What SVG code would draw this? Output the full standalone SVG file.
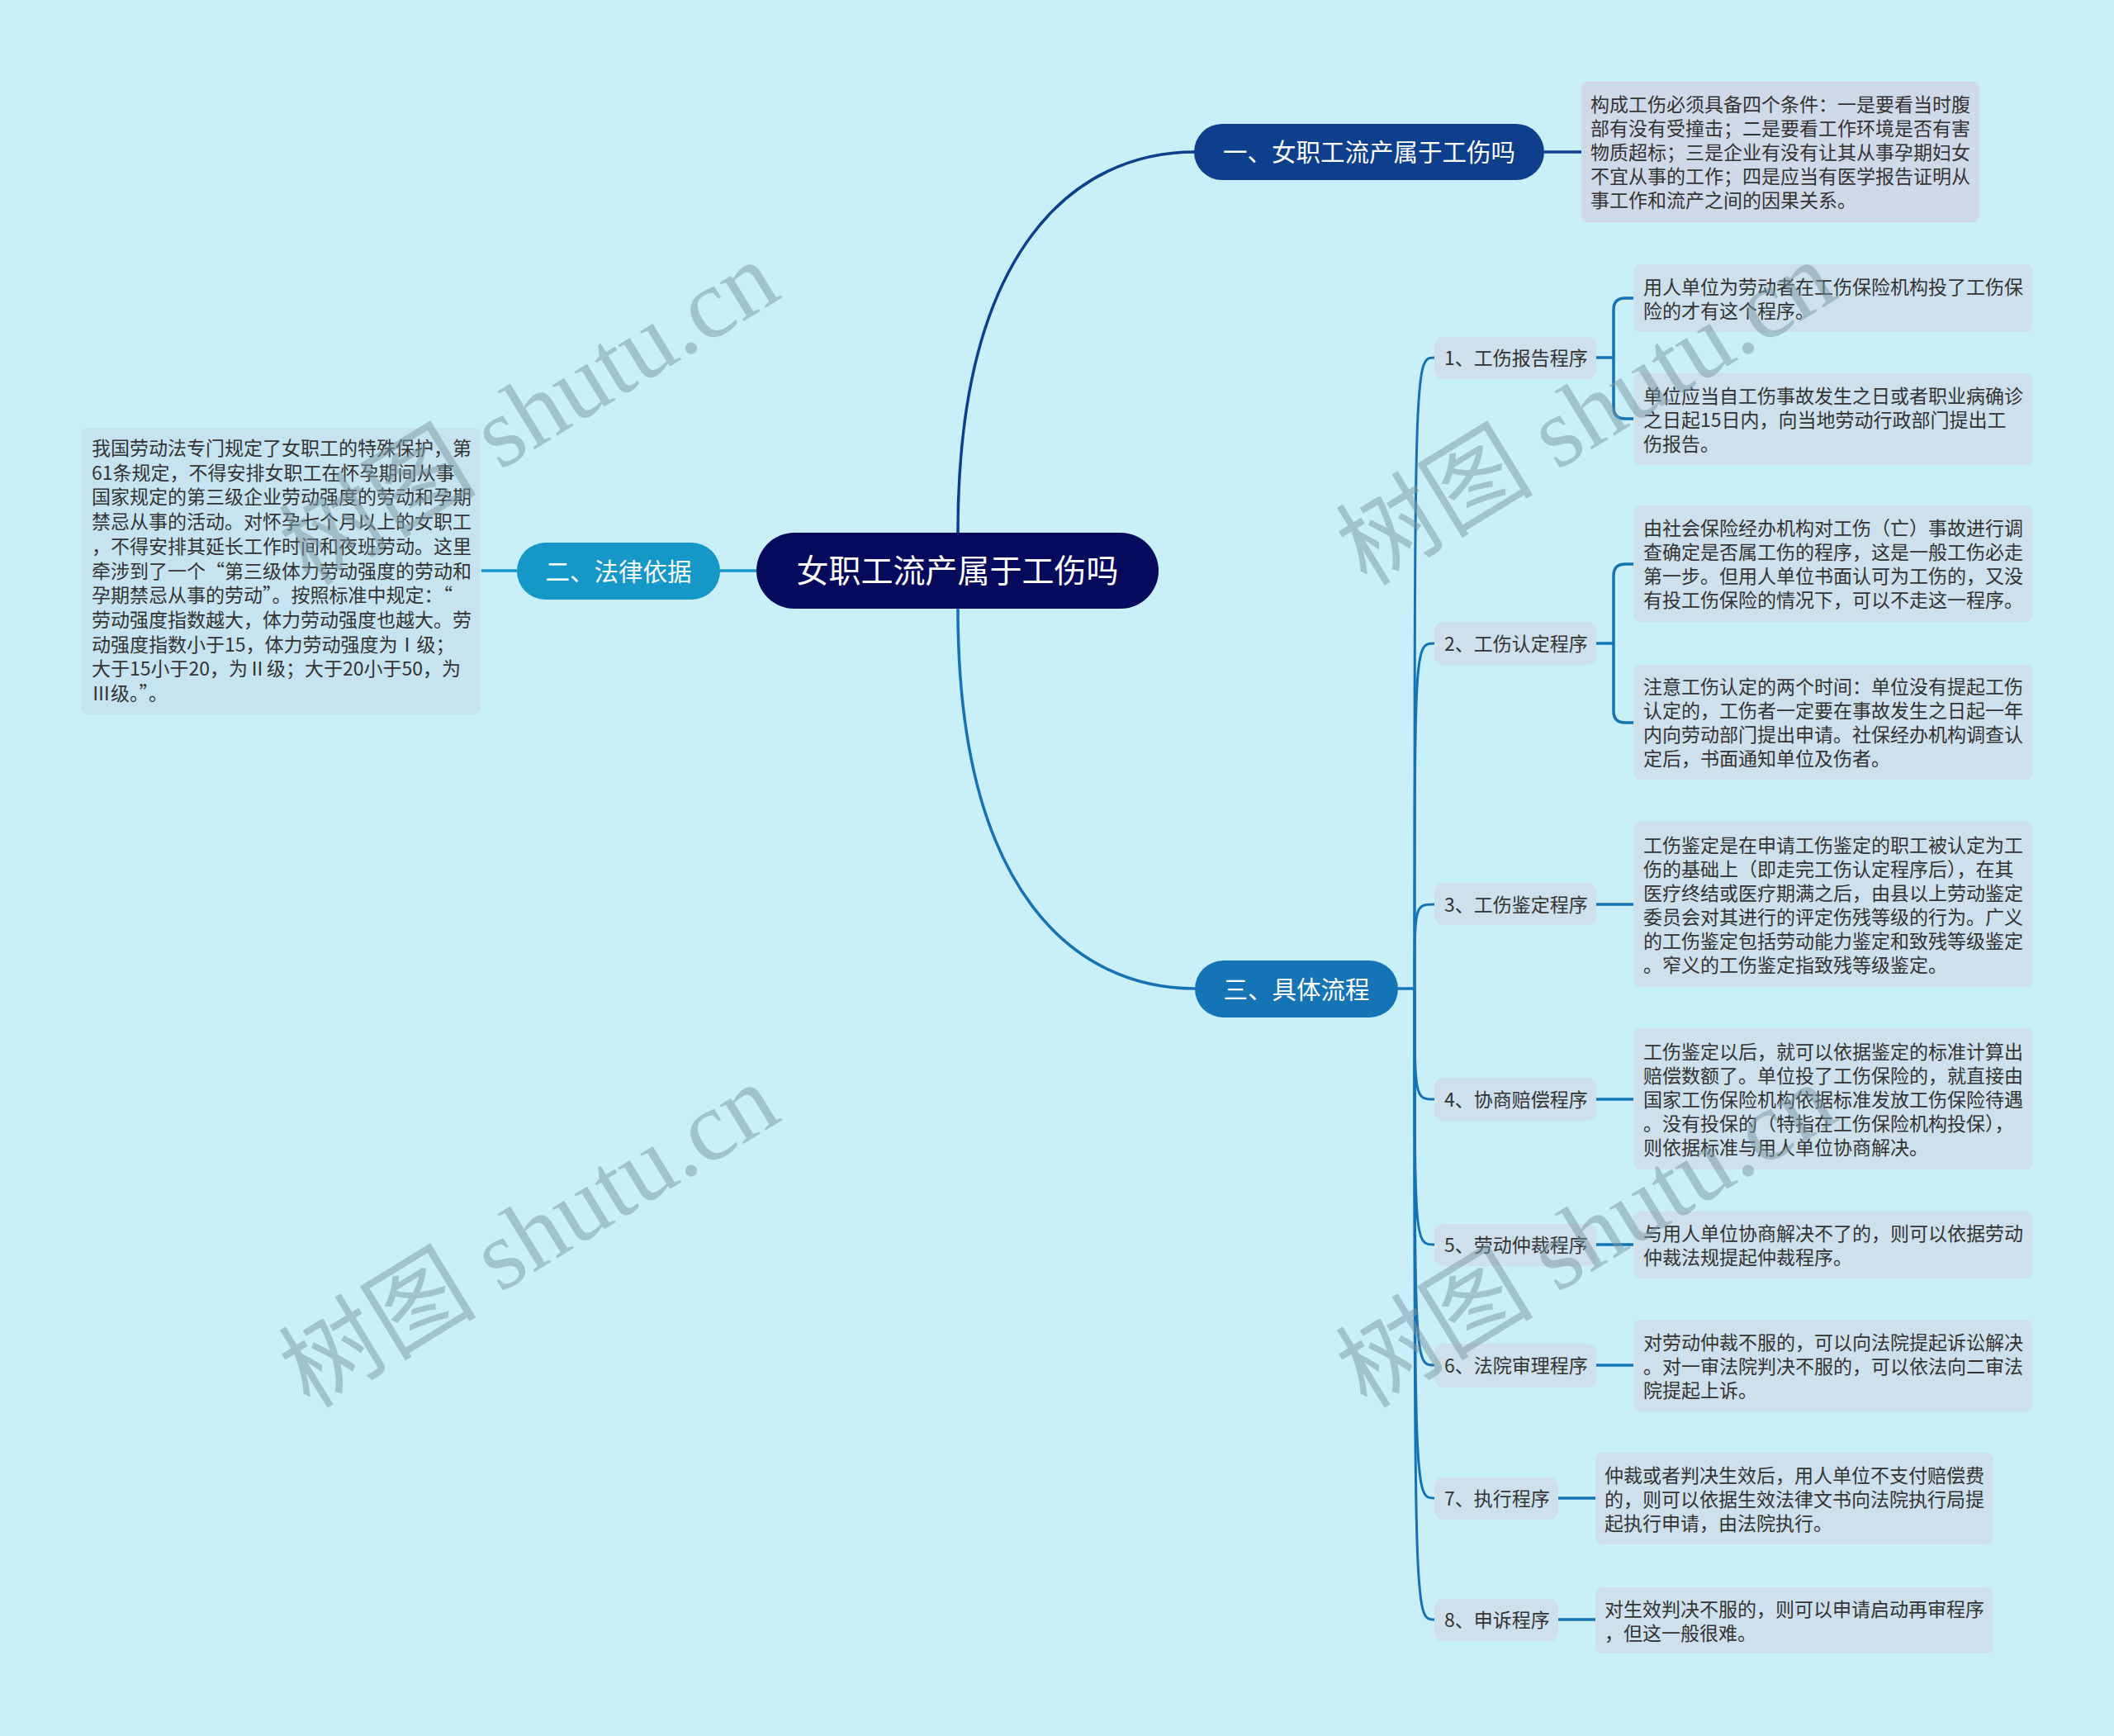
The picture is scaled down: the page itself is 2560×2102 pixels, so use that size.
<svg xmlns="http://www.w3.org/2000/svg" width="2560" height="2102" viewBox="0 0 2560 2102">
<style>
text { font-family: "Noto Sans CJK SC", "Noto Sans", sans-serif; }
.note { fill: #333333; font-size: 23px; }
.lab { fill: #333333; font-size: 23px; }
.wt { fill: #ffffff; font-size: 29.5px; text-anchor: middle; }
.root { fill: #ffffff; font-size: 39px; text-anchor: middle; }
.cbox { fill: #cde0ec; }
.nb3 { fill: #cde0ec; }
.nb1 { fill: #cfd9e8; }
.nb2 { fill: #c6e4ef; }
.c1 { fill: none; stroke: #0d3f8c; stroke-width: 3.5; }
.c2 { fill: none; stroke: #1598c8; stroke-width: 3.5; }
.c3 { fill: none; stroke: #1572b4; stroke-width: 3.5; }
.c3s { fill: none; stroke: #1572b4; stroke-width: 3; }
.wm { font-family: "Liberation Serif", "Noto Sans CJK SC", serif; font-size: 120px; fill: #7b98a3; opacity: 0.5; }
</style>
<rect x="0" y="0" width="2560" height="2102" fill="#c9eff8"/>

<g id="connectors">
  <path class="c1" d="M1160 691 V645 C1160 299 1303 184 1447 184"/>
  <path class="c1" d="M1870 184 H1915"/>
  <path class="c2" d="M916 691 H872"/>
  <path class="c2" d="M626 691 H583"/>
  <path class="c3" d="M1160 691 V737 C1160 1082 1303 1197 1447 1197"/>
  <path class="c3" d="M1693 1197 H1713"/>
  <path class="c3s" d="M1713 1197 C1713 433 1713 433 1737 433"/>
  <path class="c3s" d="M1713 1197 C1713 779 1713 779 1737 779"/>
  <path class="c3s" d="M1713 1197 C1713 1095 1713 1095 1737 1095"/>
  <path class="c3s" d="M1713 1197 C1713 1331 1713 1331 1737 1331"/>
  <path class="c3s" d="M1713 1197 C1713 1507 1713 1507 1737 1507"/>
  <path class="c3s" d="M1713 1197 C1713 1653 1713 1653 1737 1653"/>
  <path class="c3s" d="M1713 1197 C1713 1814 1713 1814 1737 1814"/>
  <path class="c3s" d="M1713 1197 C1713 1961 1713 1961 1737 1961"/>
  <path class="c3" d="M1933 433 H1954"/>
  <path class="c3" d="M1978 361 H1968 Q1954 361 1954 375 V493 Q1954 507 1968 507 H1978"/>
  <path class="c3" d="M1933 779 H1954"/>
  <path class="c3" d="M1978 683 H1968 Q1954 683 1954 697 V861 Q1954 875 1968 875 H1978"/>
  <path class="c3" d="M1933 1095 H1978"/>
  <path class="c3" d="M1933 1331 H1978"/>
  <path class="c3" d="M1933 1507 H1978"/>
  <path class="c3" d="M1933 1653 H1978"/>
  <path class="c3" d="M1887 1814 H1932"/>
  <path class="c3" d="M1887 1961 H1932"/>
</g>

<g id="root">
  <rect x="916" y="645" width="487" height="92" rx="46" fill="#050a5c"/>
  <text class="root" x="1159.5" y="705">女职工流产属于工伤吗</text>
</g>

<g id="branch1">
  <rect x="1446" y="150" width="424" height="68" rx="34" fill="#0d3f8c"/>
  <text class="wt" x="1658" y="195">一、女职工流产属于工伤吗</text>
</g>
<g id="branch1-note">
  <rect class="nb1" x="1915" y="99" width="482" height="170" rx="8"/>
  <text class="note">
    <tspan x="1926" y="135">构成工伤必须具备四个条件：一是要看当时腹</tspan>
    <tspan x="1926" y="164">部有没有受撞击；二是要看工作环境是否有害</tspan>
    <tspan x="1926" y="193">物质超标；三是企业有没有让其从事孕期妇女</tspan>
    <tspan x="1926" y="222">不宜从事的工作；四是应当有医学报告证明从</tspan>
    <tspan x="1926" y="251">事工作和流产之间的因果关系。</tspan>
  </text>
</g>

<g id="branch2">
  <rect x="626" y="657" width="246" height="69" rx="34.5" fill="#1598c8"/>
  <text class="wt" x="749" y="703">二、法律依据</text>
</g>
<g id="branch2-note">
  <rect class="nb2" x="98" y="518" width="484" height="347" rx="8"/>
  <text class="note">
    <tspan x="111" y="551">我国劳动法专门规定了女职工的特殊保护，第</tspan>
    <tspan x="111" y="580.7">61条规定，不得安排女职工在怀孕期间从事</tspan>
    <tspan x="111" y="610.4">国家规定的第三级企业劳动强度的劳动和孕期</tspan>
    <tspan x="111" y="640.1">禁忌从事的活动。对怀孕七个月以上的女职工</tspan>
    <tspan x="111" y="669.8">，不得安排其延长工作时间和夜班劳动。这里</tspan>
    <tspan x="111" y="699.5">牵涉到了一个“第三级体力劳动强度的劳动和</tspan>
    <tspan x="111" y="729.2">孕期禁忌从事的劳动”。按照标准中规定：“</tspan>
    <tspan x="111" y="758.9">劳动强度指数越大，体力劳动强度也越大。劳</tspan>
    <tspan x="111" y="788.6">动强度指数小于15，体力劳动强度为Ⅰ级；</tspan>
    <tspan x="111" y="818.3">大于15小于20，为Ⅱ级；大于20小于50，为</tspan>
    <tspan x="111" y="848">Ⅲ级。”。</tspan>
  </text>
</g>

<g id="branch3">
  <rect x="1447" y="1163" width="246" height="69" rx="34.5" fill="#1574b5"/>
  <text class="wt" x="1570" y="1209">三、具体流程</text>
</g>

<g id="c1">
  <rect class="cbox" x="1737" y="408" width="196" height="51" rx="10"/>
  <text class="lab" x="1749" y="442">1、工伤报告程序</text>
</g>
<g id="c1-n1">
  <rect class="nb3" x="1978" y="320" width="483" height="82" rx="8"/>
  <text class="note"><tspan x="1990" y="355.5">用人单位为劳动者在工伤保险机构投了工伤保</tspan><tspan x="1990" y="384.5">险的才有这个程序。</tspan></text>
</g>
<g id="c1-n2">
  <rect class="nb3" x="1978" y="452" width="483" height="111" rx="8"/>
  <text class="note"><tspan x="1990" y="487.5">单位应当自工伤事故发生之日或者职业病确诊</tspan><tspan x="1990" y="516.5">之日起15日内，向当地劳动行政部门提出工</tspan><tspan x="1990" y="545.5">伤报告。</tspan></text>
</g>

<g id="c2">
  <rect class="cbox" x="1737" y="753" width="196" height="52" rx="10"/>
  <text class="lab" x="1749" y="788">2、工伤认定程序</text>
</g>
<g id="c2-n1">
  <rect class="nb3" x="1978" y="612" width="483" height="141" rx="8"/>
  <text class="note"><tspan x="1990" y="648">由社会保险经办机构对工伤（亡）事故进行调</tspan><tspan x="1990" y="677">查确定是否属工伤的程序，这是一般工伤必走</tspan><tspan x="1990" y="706">第一步。但用人单位书面认可为工伤的，又没</tspan><tspan x="1990" y="735">有投工伤保险的情况下，可以不走这一程序。</tspan></text>
</g>
<g id="c2-n2">
  <rect class="nb3" x="1978" y="805" width="483" height="139" rx="8"/>
  <text class="note"><tspan x="1990" y="840">注意工伤认定的两个时间：单位没有提起工伤</tspan><tspan x="1990" y="869">认定的，工伤者一定要在事故发生之日起一年</tspan><tspan x="1990" y="898">内向劳动部门提出申请。社保经办机构调查认</tspan><tspan x="1990" y="927">定后，书面通知单位及伤者。</tspan></text>
</g>

<g id="c3">
  <rect class="cbox" x="1737" y="1069" width="196" height="51" rx="10"/>
  <text class="lab" x="1749" y="1104">3、工伤鉴定程序</text>
</g>
<g id="c3-n1">
  <rect class="nb3" x="1978" y="995" width="483" height="200" rx="8"/>
  <text class="note"><tspan x="1990" y="1031.5">工伤鉴定是在申请工伤鉴定的职工被认定为工</tspan><tspan x="1990" y="1060.5">伤的基础上（即走完工伤认定程序后），在其</tspan><tspan x="1990" y="1089.5">医疗终结或医疗期满之后，由县以上劳动鉴定</tspan><tspan x="1990" y="1118.5">委员会对其进行的评定伤残等级的行为。广义</tspan><tspan x="1990" y="1147.5">的工伤鉴定包括劳动能力鉴定和致残等级鉴定</tspan><tspan x="1990" y="1176.5">。窄义的工伤鉴定指致残等级鉴定。</tspan></text>
</g>

<g id="c4">
  <rect class="cbox" x="1737" y="1305" width="196" height="52" rx="10"/>
  <text class="lab" x="1749" y="1340">4、协商赔偿程序</text>
</g>
<g id="c4-n1">
  <rect class="nb3" x="1978" y="1245" width="483" height="171" rx="8"/>
  <text class="note"><tspan x="1990" y="1281.5">工伤鉴定以后，就可以依据鉴定的标准计算出</tspan><tspan x="1990" y="1310.5">赔偿数额了。单位投了工伤保险的，就直接由</tspan><tspan x="1990" y="1339.5">国家工伤保险机构依据标准发放工伤保险待遇</tspan><tspan x="1990" y="1368.5">。没有投保的（特指在工伤保险机构投保），</tspan><tspan x="1990" y="1397.5">则依据标准与用人单位协商解决。</tspan></text>
</g>

<g id="c5">
  <rect class="cbox" x="1737" y="1482" width="196" height="51" rx="10"/>
  <text class="lab" x="1749" y="1516">5、劳动仲裁程序</text>
</g>
<g id="c5-n1">
  <rect class="nb3" x="1978" y="1467" width="483" height="81" rx="8"/>
  <text class="note"><tspan x="1990" y="1502">与用人单位协商解决不了的，则可以依据劳动</tspan><tspan x="1990" y="1531">仲裁法规提起仲裁程序。</tspan></text>
</g>

<g id="c6">
  <rect class="cbox" x="1737" y="1627" width="196" height="53" rx="10"/>
  <text class="lab" x="1749" y="1662">6、法院审理程序</text>
</g>
<g id="c6-n1">
  <rect class="nb3" x="1978" y="1598" width="483" height="111" rx="8"/>
  <text class="note"><tspan x="1990" y="1633.5">对劳动仲裁不服的，可以向法院提起诉讼解决</tspan><tspan x="1990" y="1662.5">。对一审法院判决不服的，可以依法向二审法</tspan><tspan x="1990" y="1691.5">院提起上诉。</tspan></text>
</g>

<g id="c7">
  <rect class="cbox" x="1737" y="1789" width="150" height="51" rx="10"/>
  <text class="lab" x="1749" y="1823">7、执行程序</text>
</g>
<g id="c7-n1">
  <rect class="nb3" x="1932" y="1759" width="482" height="111" rx="8"/>
  <text class="note"><tspan x="1943" y="1794.5">仲裁或者判决生效后，用人单位不支付赔偿费</tspan><tspan x="1943" y="1823.5">的，则可以依据生效法律文书向法院执行局提</tspan><tspan x="1943" y="1852.5">起执行申请，由法院执行。</tspan></text>
</g>

<g id="c8">
  <rect class="cbox" x="1737" y="1936" width="150" height="51" rx="10"/>
  <text class="lab" x="1749" y="1970">8、申诉程序</text>
</g>
<g id="c8-n1">
  <rect class="nb3" x="1932" y="1922" width="482" height="80" rx="8"/>
  <text class="note"><tspan x="1943" y="1956.5">对生效判决不服的，则可以申请启动再审程序</tspan><tspan x="1943" y="1985.5">，但这一般很难。</tspan></text>
</g>

<g id="watermark">
  <text class="wm" transform="translate(375 711) rotate(-31.5)">树图 shutu.cn</text>
  <text class="wm" transform="translate(1655 711) rotate(-31.5)">树图 shutu.cn</text>
  <text class="wm" transform="translate(375 1707) rotate(-31.5)">树图 shutu.cn</text>
  <text class="wm" transform="translate(1655 1707) rotate(-31.5)">树图 shutu.cn</text>
</g>
</svg>
